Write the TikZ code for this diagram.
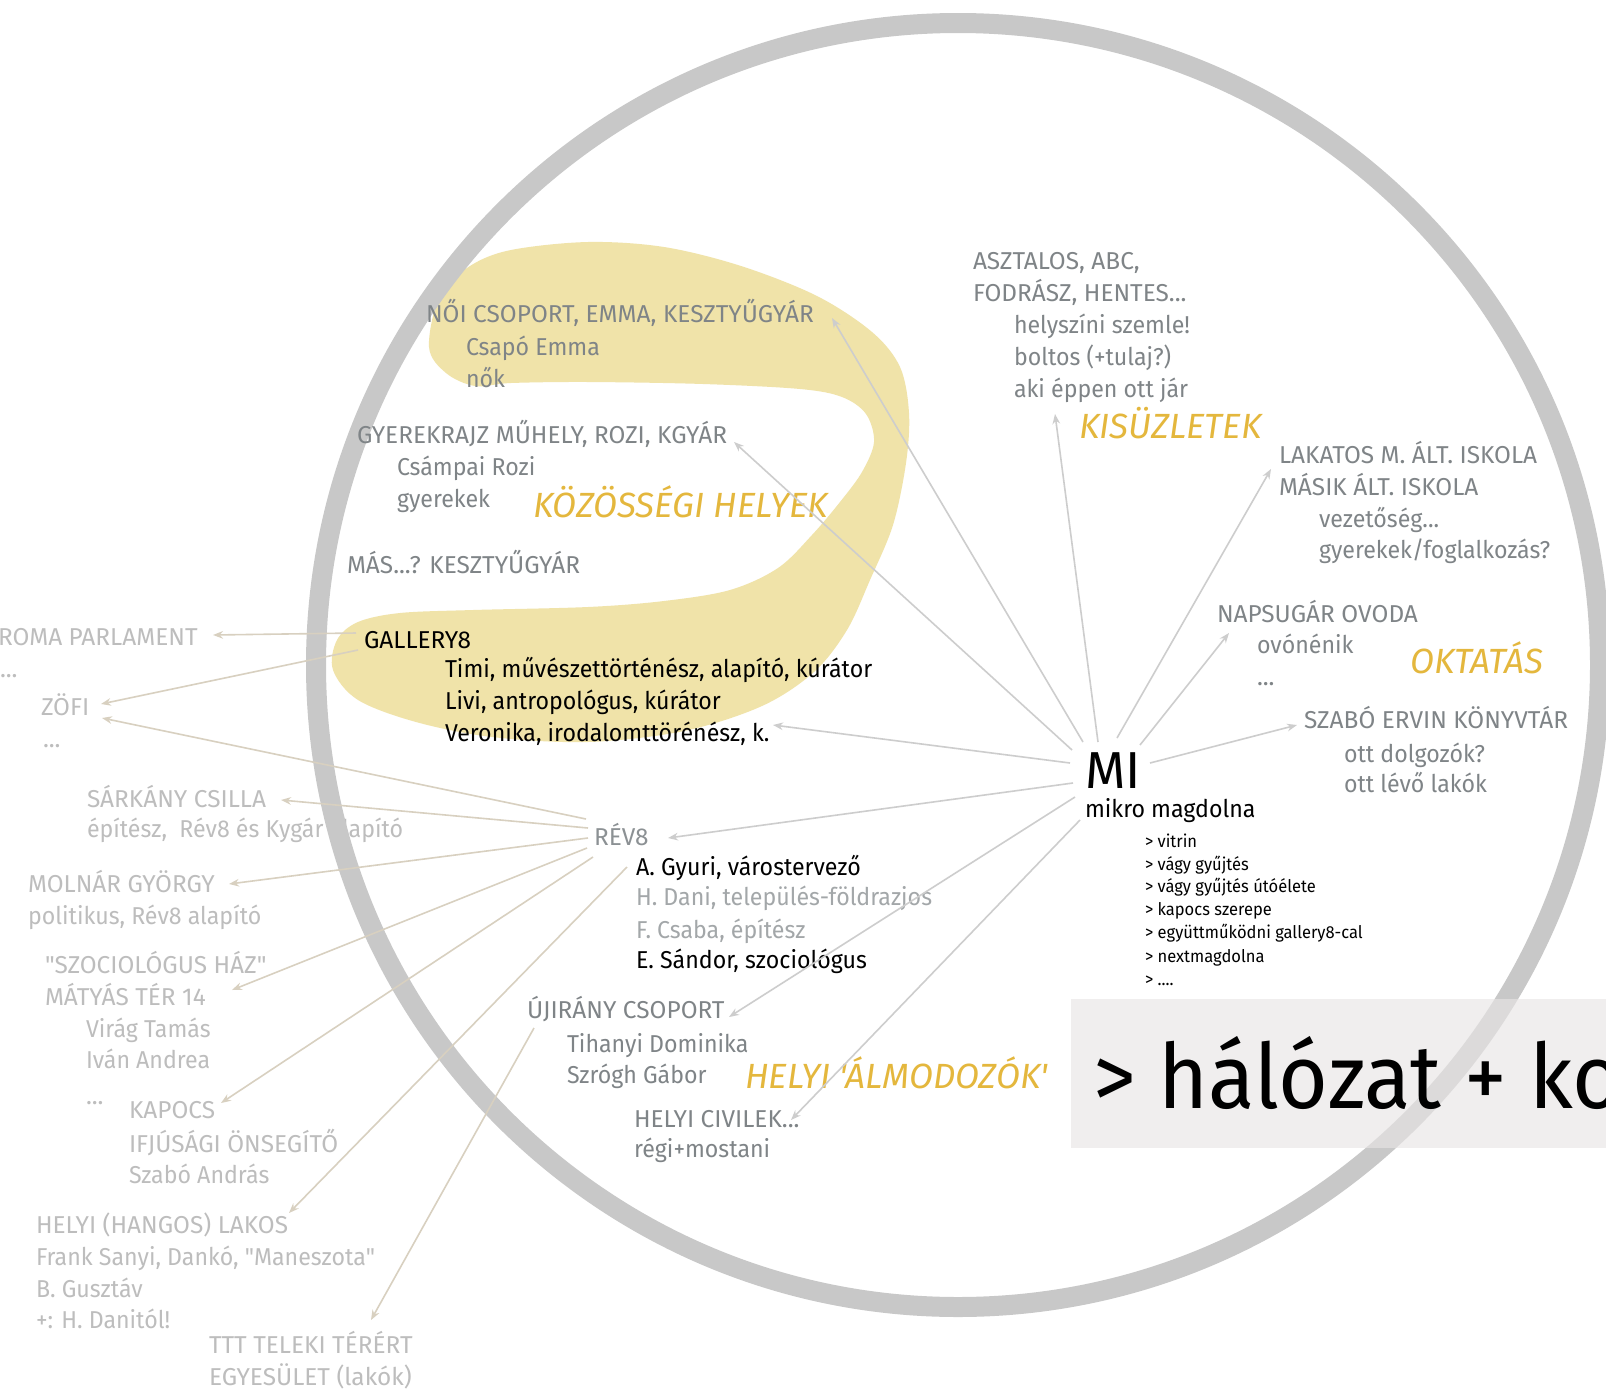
\documentclass[tikz,border=0pt]{standalone}
\usepackage{fontspec}
\setmainfont{Fira Sans}[Ligatures=TeXOff]
\newfontfamily\narrowf{Fira Sans}[Ligatures=TeXOff, FakeStretch=0.95]
\usetikzlibrary{arrows.meta}
\definecolor{txtgray}{HTML}{7F8487}
\definecolor{txtlight}{HTML}{BDBDBD}
\definecolor{txtmid}{HTML}{A3A7A9}
\definecolor{revgray}{HTML}{8C9194}
\definecolor{goldc}{HTML}{E4B73D}
\definecolor{blobc}{HTML}{F0E3A9}
\definecolor{ringc}{HTML}{C8C8C8}
\definecolor{milinec}{HTML}{CDCDCD}
\definecolor{beigec}{HTML}{D8D0C0}
\definecolor{boxc}{HTML}{E8E5E5}
\newcommand\fsbody{\fontsize{12.2}{14}\selectfont}
\newcommand\fsnar{\narrowf\fontsize{12.2}{14}\selectfont}
\newcommand\fsgold{\fontsize{17.5}{20}\selectfont\itshape}
\newcommand\fssmall{\narrowf\fontsize{8.7}{10}\selectfont}
\newcommand\fsmi{\fontsize{26}{30}\selectfont}
\newcommand\fsbig{\narrowf\fontsize{45}{50}\selectfont}
\begin{document}
\begin{tikzpicture}[x=0.5pt,y=-0.5pt,
  base/.style={anchor=base west, inner sep=0pt, outer sep=0pt, font=\fsbody},
  nar/.style={font=\fsnar},
  gtxt/.style={base, text=txtgray},
  ltxt/.style={base, text=txtlight},
  mtxt/.style={base, text=txtmid},
  btxt/.style={base, text=black},
  goldtxt/.style={base, text=goldc, font=\fsgold},
  lsttxt/.style={base, text=black, font=\fssmall},
  miarrow/.style={draw=milinec, line width=0.8pt, -{Stealth[length=5pt,width=3.8pt]}},
  bgarrow/.style={draw=beigec, line width=0.8pt, -{Stealth[length=5pt,width=3.8pt]}}
]
\useasboundingbox (0,0) rectangle (1606,1397);
\fill[white] (0,0) rectangle (1606,1397);

% yellow blob
\fill[blobc] plot[smooth cycle, tension=0.55] coordinates {
 (429,347) (440,295) (470,266) (511,250) (588,242) (664,247) (741,266)
 (817,296) (872,332) (900,367) (909,413) (906,463) (893,525) (870,580)
 (847,630) (814,672) (762,706) (684,731) (588,742) (492,737) (416,722)
 (358,700) (333,670) (337,640) (358,622) (400,613) (473,610) (588,607)
 (664,601) (730,590) (778,568) (812,535) (840,502) (862,472) (874,442)
 (866,414) (842,397) (800,389) (703,384) (588,382) (511,383) (475,386)
 (446,373)};

% texts outside the circle
\node[ltxt] (roma) at (-2,645) {ROMA PARLAMENT};
\node[ltxt] (roma2) at (0,677) {...};
\node[ltxt] (zofi) at (41,715) {ZÖFI};
\node[ltxt] (zofi2) at (43,747) {...};
\node[ltxt] (sark) at (87,807) {SÁRKÁNY CSILLA};
\node[ltxt, nar] (sark2) at (87,837) {építész,\ \ Rév8 és Kygár alapító};
\node[ltxt] (moln) at (28,892) {MOLNÁR GYÖRGY};
\node[ltxt, nar] (moln2) at (28,924) {politikus, Rév8 alapító};
\node[ltxt] (szoc) at (45,973) {"SZOCIOLÓGUS HÁZ"};
\node[ltxt] (szoc2) at (45,1005) {MÁTYÁS TÉR 14};
\node[ltxt, nar] (szoc3) at (86,1037) {Virág Tamás};
\node[ltxt, nar] (szoc4) at (86,1068) {Iván Andrea};
\node[ltxt] (szoc5) at (86,1104) {...};
\node[ltxt] (kap) at (129,1118) {KAPOCS};
\node[ltxt] (kap2) at (129,1152) {IFJÚSÁGI ÖNSEGÍTŐ};
\node[ltxt, nar] (kap3) at (129,1183) {Szabó András};
\node[ltxt] (hang) at (36,1233) {HELYI (HANGOS) LAKOS};
\node[ltxt, nar] (hang2) at (36,1265) {Frank Sanyi, Dankó, "Maneszota"};
\node[ltxt, nar] (hang3) at (36,1297) {B. Gusztáv};
\node[ltxt, nar] (hang4) at (36,1328) {+: H. Danitól!};
\node[ltxt] (ttt) at (209,1353) {TTT TELEKI TÉRÉRT};
\node[ltxt] (ttt2) at (209,1385) {EGYESÜLET (lakók)};

% the ring
\draw[ringc, line width=10pt] (958,665) circle[radius=321pt];

% bottom right box
\fill[boxc, fill opacity=0.65] (1071,999) rectangle (1606,1148);
\node[base, text=black, font=\fsbig] (halo) at (1093,1108) {> hálózat + ko};

% közösségi helyek
\node[gtxt] (noi) at (426,322) {NŐI CSOPORT, EMMA, KESZTYŰGYÁR};
\node[gtxt, nar] (noi2) at (466,355) {Csapó Emma};
\node[gtxt, nar] (noi3) at (466,387) {nők};
\node[gtxt] (gyk) at (357,443) {GYEREKRAJZ MŰHELY, ROZI, KGYÁR};
\node[gtxt, nar] (gyk2) at (397,475) {Csámpai Rozi};
\node[gtxt, nar] (gyk3) at (397,507) {gyerekek};
\node[goldtxt] (koz) at (533,517) {KÖZÖSSÉGI HELYEK};
\node[gtxt] (mas) at (347,573) {MÁS...? KESZTYŰGYÁR};

% gallery8
\node[btxt] (gal) at (364,648) {GALLERY8};
\node[btxt, nar] (gal1) at (445,677) {Timi, művészettörténész, alapító, kúrátor};
\node[btxt, nar] (gal2) at (445,709) {Livi, antropológus, kúrátor};
\node[btxt, nar] (gal3) at (445,741) {Veronika, irodalomttörénész, k.};

% rév8
\node[base, text=revgray] (rev) at (594,845) {RÉV8};
\node[btxt, nar] (rev1) at (636,875) {A. Gyuri, várostervező};
\node[mtxt, nar] (rev2) at (636,905) {H. Dani, település-földrazjos};
\node[mtxt, nar] (rev3) at (636,938) {F. Csaba, építész};
\node[btxt, nar] (rev4) at (636,968) {E. Sándor, szociológus};

% újirány
\node[gtxt] (uj) at (527,1018) {ÚJIRÁNY CSOPORT};
\node[gtxt, nar] (uj2) at (567,1052) {Tihanyi Dominika};
\node[gtxt, nar] (uj3) at (567,1083) {Szrógh Gábor};
\node[goldtxt] (alm) at (745,1088) {HELYI 'ÁLMODOZÓK'};
\node[gtxt] (civ) at (634,1127) {HELYI CIVILEK...};
\node[gtxt, nar] (civ2) at (634,1157) {régi+mostani};

% kisüzletek
\node[gtxt] (asz) at (973,269) {ASZTALOS, ABC,};
\node[gtxt] (asz2) at (973,301) {FODRÁSZ, HENTES...};
\node[gtxt, nar] (asz3) at (1014,333) {helyszíni szemle!};
\node[gtxt, nar] (asz4) at (1014,365) {boltos (+tulaj?)};
\node[gtxt, nar] (asz5) at (1014,397) {aki éppen ott jár};
\node[goldtxt] (kis) at (1079,438) {KISÜZLETEK};

% oktatás
\node[gtxt] (lak) at (1279,463) {LAKATOS M. ÁLT. ISKOLA};
\node[gtxt] (lak2) at (1279,495) {MÁSIK ÁLT. ISKOLA};
\node[gtxt, nar] (lak3) at (1319,527) {vezetőség...};
\node[gtxt, nar] (lak4) at (1319,558) {gyerekek/foglalkozás?};
\node[gtxt] (nap) at (1217,622) {NAPSUGÁR OVODA};
\node[gtxt, nar] (nap2) at (1257,653) {ovónénik};
\node[gtxt] (nap3) at (1257,685) {...};
\node[goldtxt] (okt) at (1410,673) {OKTATÁS};
\node[gtxt] (sze) at (1304,728) {SZABÓ ERVIN KÖNYVTÁR};
\node[gtxt, nar] (sze2) at (1344,762) {ott dolgozók?};
\node[gtxt, nar] (sze3) at (1344,792) {ott lévő lakók};

% MI
\node[base, text=black, font=\fsmi] (mi) at (1085,788) {MI};
\node[btxt, nar] (mm) at (1085,817) {mikro magdolna};
\node[lsttxt] (l1) at (1145,847) {> vitrin};
\node[lsttxt] (l2) at (1145,870) {> vágy gyűjtés};
\node[lsttxt] (l3) at (1145,892) {> vágy gyűjtés útóélete};
\node[lsttxt] (l4) at (1145,915) {> kapocs szerepe};
\node[lsttxt] (l5) at (1145,938) {> együttműködni gallery8-cal};
\node[lsttxt] (l6) at (1145,962) {> nextmagdolna};
\node[lsttxt] (l7) at (1145,985) {> ....};

% connector end points
\coordinate (mA) at (1083,742);  \coordinate (tA) at (832,318);
\coordinate (mB) at (1072,750);  \coordinate (tB) at (734,442);
\coordinate (mC) at (1098,742);  \coordinate (tC) at (1055,414);
\coordinate (mD) at (1117,738);  \coordinate (tD) at (1271,469);
\coordinate (mE) at (1140,745);  \coordinate (tE) at (1229,633);
\coordinate (mF) at (1150,763);  \coordinate (tF) at (1297,725);
\coordinate (mG) at (1070,763);  \coordinate (tG) at (773,725);
\coordinate (mH) at (1073,783);  \coordinate (tH) at (668,838);
\coordinate (mI) at (1075,797);  \coordinate (tI) at (729,1017);
\coordinate (mJ) at (1080,820);  \coordinate (tJ) at (791,1120);

\coordinate (gR) at (356,633);   \coordinate (tR) at (213,635);
\coordinate (gS) at (358,650);   \coordinate (tS) at (101,704);
\coordinate (rK) at (586,819);   \coordinate (tK) at (102,718);
\coordinate (rL) at (588,828);   \coordinate (tL) at (281,800);
\coordinate (rM) at (588,838);   \coordinate (tM) at (229,884);
\coordinate (rN) at (587,848);   \coordinate (tN) at (232,990);
\coordinate (rO) at (593,857);   \coordinate (tO) at (221,1103);
\coordinate (rP) at (627,867);   \coordinate (tP) at (289,1213);
\coordinate (uQ) at (534,1028);  \coordinate (tQ) at (371,1320);

% connectors from MI
\draw[miarrow] (mA) -- (tA);
\draw[miarrow] (mB) -- (tB);
\draw[miarrow] (mC) -- (tC);
\draw[miarrow] (mD) -- (tD);
\draw[miarrow] (mE) -- (tE);
\draw[miarrow] (mF) -- (tF);
\draw[miarrow] (mG) -- (tG);
\draw[miarrow] (mH) -- (tH);
\draw[miarrow] (mI) -- (tI);
\draw[miarrow] (mJ) -- (tJ);

% connectors from gallery8, rév8, újirány
\draw[bgarrow] (gR) -- (tR);
\draw[bgarrow] (gS) -- (tS);
\draw[bgarrow] (rK) -- (tK);
\draw[bgarrow] (rL) -- (tL);
\draw[bgarrow] (rM) -- (tM);
\draw[bgarrow] (rN) -- (tN);
\draw[bgarrow] (rO) -- (tO);
\draw[bgarrow] (rP) -- (tP);
\draw[bgarrow] (uQ) -- (tQ);
\end{tikzpicture}
\end{document}
